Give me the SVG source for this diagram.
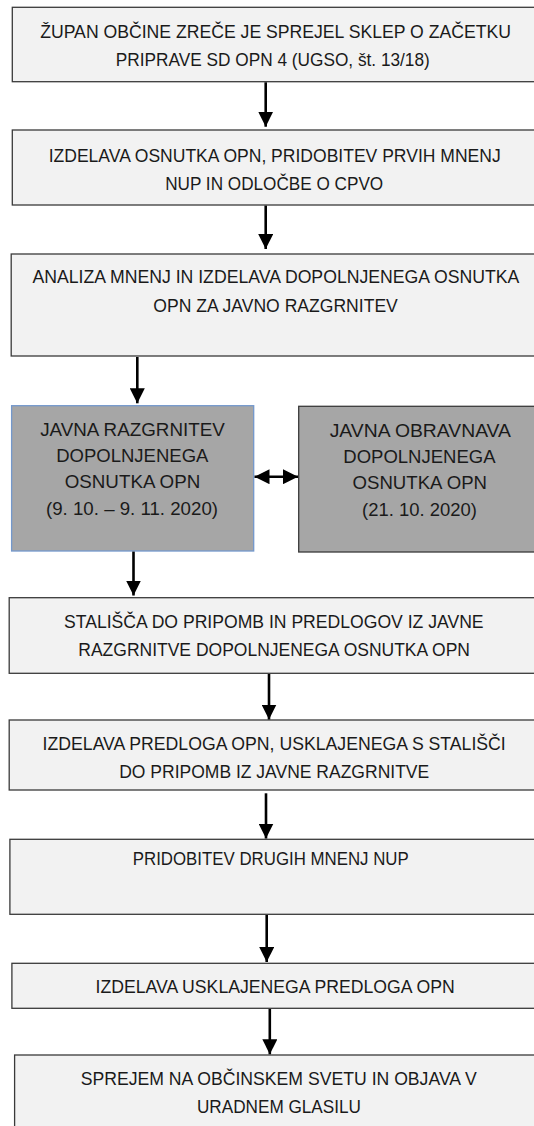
<svg xmlns="http://www.w3.org/2000/svg" width="534" height="1126" viewBox="0 0 534 1126">
<style>
.box{fill:#f2f2f2;stroke:#3a3a3a;stroke-width:1.3}
.grey{fill:#a6a6a6;stroke:#3a3a3a;stroke-width:1.3}
.greyb{fill:#a6a6a6;stroke:#7398cc;stroke-width:1.3}
text{font-family:"Liberation Sans",Arial,sans-serif;font-size:18px;fill:#1a1a1a}
.c line{stroke:#000;stroke-width:2.6;fill:none}
</style>
<defs>
<marker id="ah" markerUnits="userSpaceOnUse" markerWidth="15" markerHeight="15" refX="15" refY="7.5" orient="auto-start-reverse">
<path d="M0,0 L15,7.5 L0,15 z" fill="#000"/>
</marker>
</defs>
<rect width="534" height="1126" fill="#fff"/>
<g id="n1"><rect class="box" x="12.3" y="7.3" width="523" height="74.4"/>
<text x="40.2" y="37.7" textLength="470.7" lengthAdjust="spacingAndGlyphs">ŽUPAN OBČINE ZREČE JE SPREJEL SKLEP O ZAČETKU</text>
<text x="115.8" y="66" textLength="314" lengthAdjust="spacingAndGlyphs">PRIPRAVE SD OPN 4 (UGSO, št. 13/18)</text></g>
<g id="n2"><rect class="box" x="12.3" y="130" width="523" height="75"/>
<text x="48.7" y="161.7" textLength="452" lengthAdjust="spacingAndGlyphs">IZDELAVA OSNUTKA OPN, PRIDOBITEV PRVIH MNENJ</text>
<text x="165.2" y="190" textLength="218" lengthAdjust="spacingAndGlyphs">NUP IN ODLOČBE O CPVO</text></g>
<g id="n3"><rect class="box" x="11.2" y="254" width="524" height="102"/>
<text x="32.4" y="283.3" textLength="487" lengthAdjust="spacingAndGlyphs">ANALIZA MNENJ IN IZDELAVA DOPOLNJENEGA OSNUTKA</text>
<text x="153.3" y="311.7" textLength="244.5" lengthAdjust="spacingAndGlyphs">OPN ZA JAVNO RAZGRNITEV</text></g>
<g id="n4"><rect class="greyb" x="11.6" y="405.7" width="242.1" height="145.3"/>
<text x="40.2" y="436" textLength="184.6" lengthAdjust="spacingAndGlyphs">JAVNA RAZGRNITEV</text>
<text x="56.2" y="462.3" textLength="152.2" lengthAdjust="spacingAndGlyphs">DOPOLNJENEGA</text>
<text x="64.7" y="488.3" textLength="135.6" lengthAdjust="spacingAndGlyphs">OSNUTKA OPN</text>
<text x="46" y="515" textLength="172" lengthAdjust="spacingAndGlyphs">(9. 10. – 9. 11. 2020)</text></g>
<g id="n5"><rect class="grey" x="298.7" y="406.3" width="236.5" height="145.7"/>
<text x="329.7" y="436.5" textLength="181.3" lengthAdjust="spacingAndGlyphs">JAVNA OBRAVNAVA</text>
<text x="343.3" y="462.8" textLength="152.3" lengthAdjust="spacingAndGlyphs">DOPOLNJENEGA</text>
<text x="352.5" y="488.8" textLength="134.5" lengthAdjust="spacingAndGlyphs">OSNUTKA OPN</text>
<text x="362" y="515.5" textLength="114.8" lengthAdjust="spacingAndGlyphs">(21. 10. 2020)</text></g>
<g id="n6"><rect class="box" x="9.2" y="597.7" width="526" height="75.6"/>
<text x="64" y="628.3" textLength="419.6" lengthAdjust="spacingAndGlyphs">STALIŠČA DO PRIPOMB IN PREDLOGOV IZ JAVNE</text>
<text x="78.3" y="656" textLength="391.7" lengthAdjust="spacingAndGlyphs">RAZGRNITVE DOPOLNJENEGA OSNUTKA OPN</text></g>
<g id="n7"><rect class="box" x="9.2" y="720" width="526" height="70"/>
<text x="42.6" y="750" textLength="463.2" lengthAdjust="spacingAndGlyphs">IZDELAVA PREDLOGA OPN, USKLAJENEGA S STALIŠČI</text>
<text x="119.2" y="778.3" textLength="310" lengthAdjust="spacingAndGlyphs">DO PRIPOMB IZ JAVNE RAZGRNITVE</text></g>
<g id="n8"><rect class="box" x="9.9" y="839.3" width="525.3" height="75"/>
<text x="132.8" y="865" textLength="275.9" lengthAdjust="spacingAndGlyphs">PRIDOBITEV DRUGIH MNENJ NUP</text></g>
<g id="n9"><rect class="box" x="11.9" y="963.3" width="523.3" height="45"/>
<text x="95.5" y="993.3" textLength="359.2" lengthAdjust="spacingAndGlyphs">IZDELAVA USKLAJENEGA PREDLOGA OPN</text></g>
<g id="n10"><rect class="box" x="14.6" y="1055" width="520.6" height="80"/>
<text x="80.7" y="1085" textLength="396.1" lengthAdjust="spacingAndGlyphs">SPREJEM NA OBČINSKEM SVETU IN OBJAVA V</text>
<text x="196.9" y="1112.7" textLength="164.1" lengthAdjust="spacingAndGlyphs">URADNEM GLASILU</text></g>
<g id="connectors" class="c">
<line x1="265.7" y1="82.3" x2="265.7" y2="126.7" marker-end="url(#ah)"/>
<line x1="265.7" y1="205.6" x2="265.7" y2="249" marker-end="url(#ah)"/>
<line x1="137.3" y1="357" x2="137.3" y2="403.3" marker-end="url(#ah)"/>
<line x1="133.5" y1="551.6" x2="133.5" y2="595.5" marker-end="url(#ah)"/>
<line x1="269" y1="674" x2="269" y2="719.5" marker-end="url(#ah)"/>
<line x1="266" y1="793.3" x2="266" y2="838.5" marker-end="url(#ah)"/>
<line x1="266.7" y1="915" x2="266.7" y2="962" marker-end="url(#ah)"/>
<line x1="269.8" y1="1009" x2="269.8" y2="1054.3" marker-end="url(#ah)"/>
<line x1="254.5" y1="476.7" x2="298" y2="476.7" marker-start="url(#ah)" marker-end="url(#ah)"/>
</g>
</svg>
